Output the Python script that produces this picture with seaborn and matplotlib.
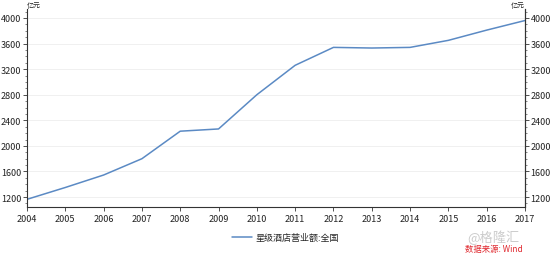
import matplotlib
matplotlib.use("Agg")
import matplotlib.pyplot as plt
import seaborn as sns
import pandas as pd
from matplotlib.ticker import MultipleLocator

years = [2004, 2005, 2006, 2007, 2008, 2009, 2010, 2011, 2012, 2013, 2014, 2015, 2016, 2017]
revenue = [1165, 1350, 1545, 1800, 2230, 2265, 2800, 3260, 3540, 3530, 3540, 3650, 3810, 3960]
series_name = "星级酒店营业额:全国"
y_ticks = [1200, 1600, 2000, 2400, 2800, 3200, 3600, 4000]
unit = "亿元"

sns.set_theme(style="white")
plt.rcParams['font.family'] = ['Noto Sans CJK SC', 'DejaVu Sans']

df = pd.DataFrame({"year": years, "value": revenue, "series": series_name})

fig = plt.figure(figsize=(5.53, 2.55), dpi=100)
ax = fig.add_axes([27/553, 1-208/255, (525-27)/553, (208-10)/255])
sns.lineplot(data=df, x="year", y="value", hue="series", palette=["#5b8ac4"],
             linewidth=1.1, ax=ax, legend=True)

ax.set_xlim(2004, 2017)
ax.set_ylim(1045, 4140)
ax.set_xticks(years)
ax.set_xticklabels([str(y) for y in years], fontsize=6.5, color="#222222")
ax.set_yticks(y_ticks)
ax.set_yticklabels([str(v) for v in y_ticks], fontsize=6.5, color="#222222")
ax.yaxis.set_minor_locator(MultipleLocator(100))
ax.set_xlabel("")
ax.set_ylabel("")
ax.grid(axis="y", color="#f0f0f0", linewidth=0.7)
ax.set_axisbelow(True)

ax.spines["top"].set_visible(False)
for s in ["left", "right", "bottom"]:
    ax.spines[s].set_visible(True)
    ax.spines[s].set_color("#333333")
    ax.spines[s].set_linewidth(0.8)

ax.tick_params(axis="y", which="major", direction="out", length=3, width=0.6, color="#333333", pad=1, left=True)
ax.tick_params(axis="y", which="minor", direction="out", length=1.5, width=0.5, color="#555555", left=True)
ax.tick_params(axis="x", which="major", direction="out", length=3, width=0.6, color="#333333", pad=2, bottom=True)

ax2 = ax.twinx()
ax2.set_ylim(ax.get_ylim())
ax2.set_yticks(y_ticks)
ax2.set_yticklabels([str(v) for v in y_ticks], fontsize=6.5, color="#222222")
ax2.yaxis.set_minor_locator(MultipleLocator(100))
ax2.tick_params(axis="y", which="major", direction="out", length=3, width=0.6, color="#333333", pad=1, right=True)
ax2.tick_params(axis="y", which="minor", direction="out", length=1.5, width=0.5, color="#555555", right=True)
for s in ["top", "left", "bottom"]:
    ax2.spines[s].set_visible(False)
ax2.spines["right"].set_color("#333333")
ax2.spines["right"].set_linewidth(0.8)

ax.text(0.0, 1.0, unit, transform=ax.transAxes, fontsize=5, ha="left", va="bottom", color="#222222")
ax.text(1.0, 1.0, unit, transform=ax.transAxes, fontsize=5, ha="right", va="bottom", color="#222222")

leg = ax.legend(loc="upper center", bbox_to_anchor=(0.52, -0.09), frameon=False,
                fontsize=6.5, handlelength=2.2, handletextpad=0.4)

fig.text(520/553, 1-238/255, "@格隆汇", fontsize=9.5, color="#cccccc", ha="right", va="center")
fig.text(523/553, 1-250/255, "数据来源: Wind", fontsize=6, color="#e0282e", ha="right",
         va="center", style="italic")

fig.savefig("out.png", dpi=100)
